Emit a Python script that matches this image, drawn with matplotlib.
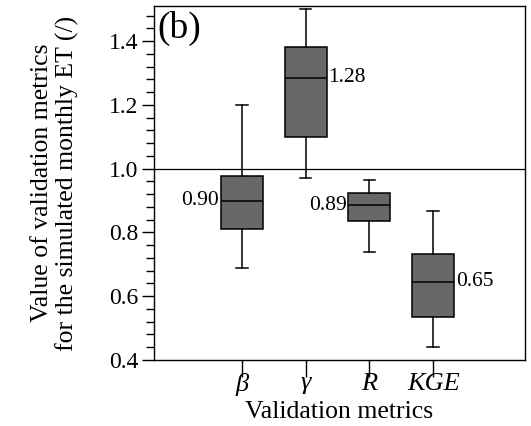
import matplotlib
matplotlib.use('Agg')
import matplotlib.pyplot as plt
from matplotlib.ticker import MultipleLocator

plt.rcParams['font.family'] = ['Liberation Serif', 'DejaVu Serif']

# Box statistics
metrics = ['β', 'γ', 'R', 'KGE']
whislo = [0.69, 0.97, 0.74, 0.44]
q1 = [0.81, 1.10, 0.835, 0.535]
med = [0.90, 1.285, 0.885, 0.645]
q3 = [0.978, 1.38, 0.925, 0.732]
whishi = [1.20, 1.50, 0.965, 0.866]
med_labels = ['0.90', '1.28', '0.89', '0.65']
label_side = ['left', 'right', 'left', 'right']

stats = []
for i in range(len(metrics)):
    stats.append({'label': metrics[i], 'whislo': whislo[i], 'q1': q1[i], 'med': med[i],
                  'q3': q3[i], 'whishi': whishi[i], 'fliers': []})

fig = plt.figure(figsize=(5.31, 4.26), dpi=100)
ax = fig.add_axes([154/531, 1-360/426, (525-154)/531, (360-6)/426])

pos = [1, 2, 3, 4]
ax.bxp(stats, positions=pos, widths=0.66, patch_artist=True, showfliers=False,
       boxprops=dict(facecolor='#686868', edgecolor='black', linewidth=1.1),
       medianprops=dict(color='black', linewidth=1.1),
       whiskerprops=dict(color='black', linewidth=1.1),
       capprops=dict(color='black', linewidth=1.1), capwidths=0.18)

ax.axhline(1.0, color='black', linewidth=0.9)

for p, m, t, side in zip(pos, med, med_labels, label_side):
    if side == 'left':
        ax.text(p - 0.36, m, t, ha='right', va='center', fontsize=15.5)
    else:
        ax.text(p + 0.36, m, t, ha='left', va='center', fontsize=15.5)

ax.text(0.01, 0.985, '(b)', transform=ax.transAxes, ha='left', va='top', fontsize=27)

ax.set_xlim(-0.38, 5.44)
ax.set_ylim(0.4, 1.51)
ax.set_xticks(pos)
ax.set_xticklabels(metrics, fontstyle='italic', fontsize=19)
ax.yaxis.set_major_locator(MultipleLocator(0.2))
ax.yaxis.set_minor_locator(MultipleLocator(0.04))
ax.yaxis.set_major_formatter(matplotlib.ticker.FormatStrFormatter('%.1f'))
ax.tick_params(axis='y', which='major', direction='out', length=9, width=1, labelsize=17, pad=2)
ax.tick_params(axis='y', which='minor', direction='out', length=6, width=1)
ax.tick_params(axis='x', which='major', direction='out', length=12, width=1, pad=-3)

ax.set_xlabel('Validation metrics', fontsize=18.5, labelpad=4)
ax.set_ylabel('Value of validation metrics\nfor the simulated monthly ET (/)', fontsize=18.5,
              linespacing=1.1, labelpad=22)

for s in ax.spines.values():
    s.set_linewidth(1)

fig.savefig('out.png', dpi=100)
